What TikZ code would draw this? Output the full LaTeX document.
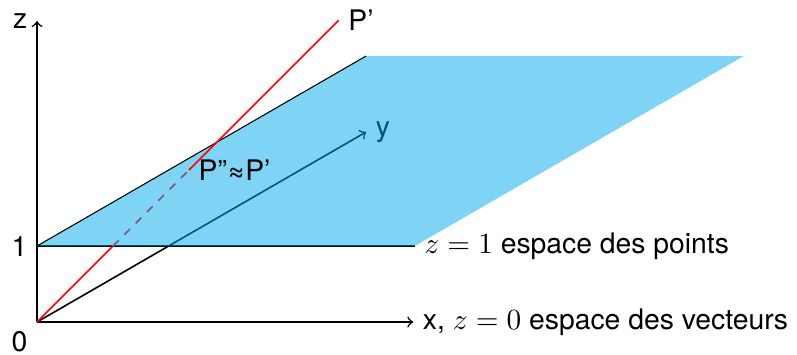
\documentclass[tikz,border=0pt]{standalone}
\usepackage{fontspec}
\setmainfont{TeX Gyre Heros}
\definecolor{planblue}{RGB}{0,170,236}
\begin{document}
\begin{tikzpicture}[font=\fontsize{10.6pt}{12.7pt}\selectfont,semithick,
  plan/.style={fill=planblue,fill opacity=0.5}]
  \useasboundingbox (-0.487,-0.421) rectangle (10.0,4.237);
  \coordinate (O) at (0,0);
  \coordinate (Z) at (0,3.96);
  \coordinate (X) at (4.95,0);
  \coordinate (Y) at (30:5);
  \coordinate (A) at (0,1);
  \coordinate (B) at (4.97,1);
  \coordinate (Q) at (1,1);
  \coordinate (R) at (2,2);
  \coordinate (P) at (3.97,3.97);
  \draw[->] (O)--(Z) node[left] {z};
  \draw[->] (O)--(X) node[right] {x, $z=0$ espace des vecteurs};
  \node[below left] (zero) at (O) {0};
  \node[left] (one) at (A) {1};
  \draw[->] (O)--(Y) node[right] {y};
  \draw (A)--(B);
  \draw[red] (O)--(Q);
  \draw[red,dashed] (Q)--(R);
  \fill[plan] (A)--(B)--([shift={(30:5)}]B)--([shift={(30:5)}]A)--cycle;
  \draw[thin] (A)--([shift={(30:5)}]A);
  \draw[red] (R)--(P) node[right,black] {P’};
  \node[right] (pp) at (R) {P”≈P’};
  \node[right] (pts) at (B) {$z=1$ espace des points};
\end{tikzpicture}
\end{document}
